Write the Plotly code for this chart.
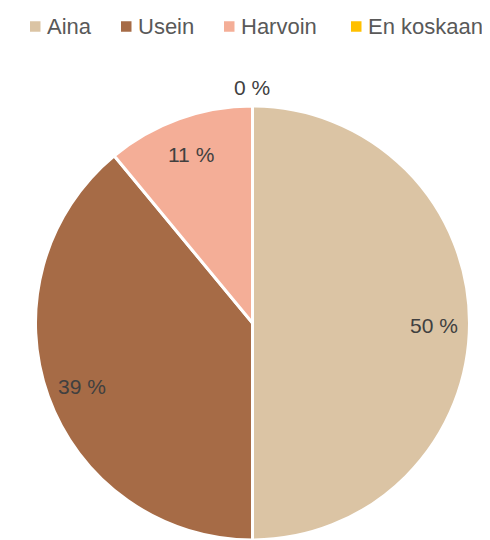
import math
import plotly.graph_objects as go

categories = ["Aina", "Usein", "Harvoin", "En koskaan"]
values = [50, 39, 11, 0]
colors = ["#DBC4A4", "#A66B46", "#F4AE97", "#FFC000"]

OFF = 8  # page body margin offset: figure pixel = screen pixel - OFF
W, H = 490 - OFF, 540 - OFF  # keep the figure inside the window

# pie geometry in screen pixels
pie_left, pie_right = 35.5, 469.5
pie_top = 106
R = (pie_right - pie_left) / 2
cx = (pie_left + pie_right) / 2
cy = pie_top + R


def fx(px):
    return (px - OFF) / W


def fy(py):
    return 1 - (py - OFF) / H


fig = go.Figure()
fig.add_trace(go.Pie(
    labels=categories,
    values=values,
    marker=dict(colors=colors, line=dict(color="white", width=3)),
    sort=False,
    direction="clockwise",
    rotation=0,
    textinfo="none",
    hoverinfo="skip",
    showlegend=False,
    domain=dict(x=[fx(pie_left), fx(pie_right)], y=[max(0, fy(pie_top + 2 * R)), fy(pie_top)]),
))

# data labels, placed at each slice's mid-angle
total = sum(values)
cum = 0
label_font = dict(family="Liberation Sans, Arial, sans-serif", size=21, color="#404040")
for cat, v in zip(categories, values):
    mid = (cum + v / 2) / total * 2 * math.pi
    cum += v
    r = 0.835 * R if v > 0 else 1.095 * R
    px = cx + r * math.sin(mid)
    py = cy - r * math.cos(mid) + 2
    fig.add_annotation(
        x=fx(px), y=fy(py), xref="paper", yref="paper",
        text=f"{v} %", showarrow=False, font=label_font,
        xanchor="center", yanchor="middle",
    )

# legend row (manual, to mimic the office-style compact legend)
legend_square_x = [30, 121, 224, 351]
legend_y = 26.5
sq = 10.5
leg_font = dict(family="Liberation Sans, Arial, sans-serif", size=22, color="#595959")
for cat, col, x0 in zip(categories, colors, legend_square_x):
    fig.add_shape(
        type="rect", xref="paper", yref="paper",
        x0=fx(x0), x1=fx(x0 + sq),
        y0=fy(legend_y + sq / 2), y1=fy(legend_y - sq / 2),
        fillcolor=col, line=dict(width=0),
    )
    fig.add_annotation(
        x=fx(x0 + sq + 4.5), y=fy(legend_y), xref="paper", yref="paper",
        text=cat, showarrow=False, font=leg_font,
        xanchor="left", yanchor="middle",
    )

fig.update_layout(
    width=W, height=H,
    margin=dict(l=0, r=0, t=0, b=0),
    paper_bgcolor="white",
    plot_bgcolor="white",
    showlegend=False,
)

fig.write_html("out.html")
